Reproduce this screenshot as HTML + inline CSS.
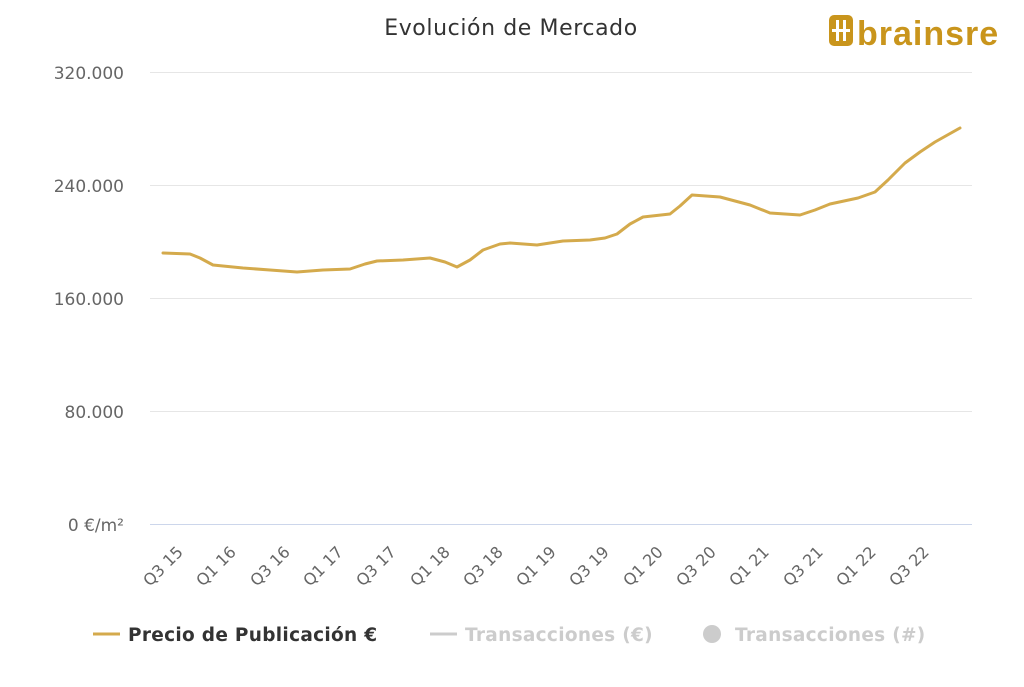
<!DOCTYPE html>
<html><head><meta charset="utf-8"><style>
body{margin:0;background:#fff;width:1024px;height:683px;overflow:hidden;font-family:"DejaVu Sans","Liberation Sans",sans-serif}
</style></head><body>
<svg width="1024" height="683" viewBox="0 0 1024 683" xmlns="http://www.w3.org/2000/svg">
<text x="511" y="35" text-anchor="middle" font-size="22" fill="#333" letter-spacing="0.6" font-family="DejaVu Sans,sans-serif">Evolución de Mercado</text>
<g>
<rect x="829" y="15" width="24" height="31" rx="5" fill="#c9951c"/>
<rect x="836" y="20" width="3" height="21" fill="#fff"/><rect x="843" y="20" width="3" height="21" fill="#fff"/>
<rect x="832" y="29" width="18" height="3" fill="#fff"/>
<text x="857" y="45" font-size="34" font-weight="bold" fill="#c9951c" letter-spacing="1" font-family="Liberation Sans,sans-serif">brainsre</text>
</g>
<g stroke="#e6e6e6" stroke-width="1">
<line x1="150" y1="72.5" x2="972" y2="72.5"/><line x1="150" y1="185.5" x2="972" y2="185.5"/>
<line x1="150" y1="298.5" x2="972" y2="298.5"/><line x1="150" y1="411.5" x2="972" y2="411.5"/>
</g>
<line x1="150" y1="524.5" x2="972" y2="524.5" stroke="#ccd6eb"/>
<g font-size="17" fill="#666" text-anchor="end">
<text x="124" y="79">320.000</text><text x="124" y="192">240.000</text><text x="124" y="305">160.000</text>
<text x="124" y="418">80.000</text><text x="124" y="531">0 €/m²</text>
</g>
<g font-size="16" fill="#666" text-anchor="end">
<text transform="translate(184,553) rotate(-45)">Q3 15</text>
<text transform="translate(237,553) rotate(-45)">Q1 16</text>
<text transform="translate(291,553) rotate(-45)">Q3 16</text>
<text transform="translate(344,553) rotate(-45)">Q1 17</text>
<text transform="translate(397,553) rotate(-45)">Q3 17</text>
<text transform="translate(451,553) rotate(-45)">Q1 18</text>
<text transform="translate(504,553) rotate(-45)">Q3 18</text>
<text transform="translate(557,553) rotate(-45)">Q1 19</text>
<text transform="translate(610,553) rotate(-45)">Q3 19</text>
<text transform="translate(664,553) rotate(-45)">Q1 20</text>
<text transform="translate(717,553) rotate(-45)">Q3 20</text>
<text transform="translate(770,553) rotate(-45)">Q1 21</text>
<text transform="translate(824,553) rotate(-45)">Q3 21</text>
<text transform="translate(877,553) rotate(-45)">Q1 22</text>
<text transform="translate(930,553) rotate(-45)">Q3 22</text>
</g>
<polyline fill="none" stroke="#d4aa4c" stroke-width="3" stroke-linejoin="round" stroke-linecap="round"
points="163,253 190,254 200,258 213,265 243,268 270,270 297,272 323,270 350,269 365,264 377,261 403,260 430,258 445,262 457,267 470,260 483,250 500,244 510,243 537,245 563,241 590,240 605,238 617,234 630,224 643,217 670,214 680,206 692,195 720,197 750,205 770,213 800,215 815,210 830,204 858,198 875,192 888,180 905,163 920,152 935,142 960,128"/>
<line x1="93" y1="634" x2="120" y2="634" stroke="#d4aa4c" stroke-width="3"/>
<text x="128" y="641" font-size="18.5" font-weight="bold" fill="#333" letter-spacing="0.3">Precio de Publicación €</text>
<line x1="430" y1="634" x2="457" y2="634" stroke="#ccc" stroke-width="3"/>
<text x="465" y="641" font-size="18.5" font-weight="bold" fill="#ccc" letter-spacing="0.3">Transacciones (€)</text>
<circle cx="712" cy="634" r="9" fill="#ccc"/>
<text x="735" y="641" font-size="18.5" font-weight="bold" fill="#ccc" letter-spacing="0.3">Transacciones (#)</text>
</svg>
</body></html>
